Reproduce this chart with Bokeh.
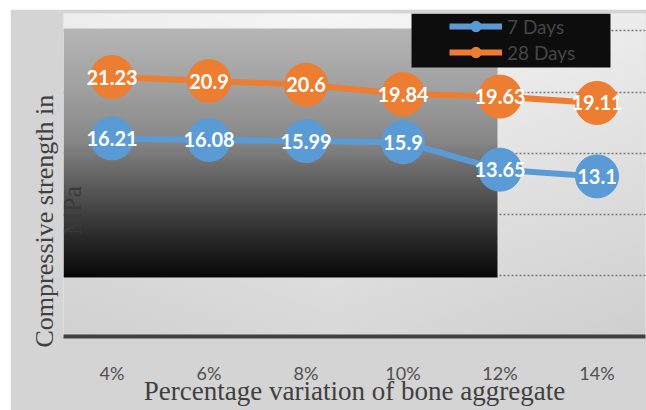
import numpy as np
from bokeh.plotting import figure
from bokeh.models import Range1d, FixedTicker, Legend, LegendItem, Title
from bokeh.core.properties import value
from bokeh.embed import file_html
from bokeh.resources import INLINE

# ---- data ----
categories = ["4%", "6%", "8%", "10%", "12%", "14%"]
days7 = [16.21, 16.08, 15.99, 15.9, 13.65, 13.1]
days28 = [21.23, 20.9, 20.6, 19.84, 19.63, 19.11]
grid_values = [5, 10, 15, 20, 25]
series_names = ["7 Days", "28 Days"]

xpos = [i + 0.5 for i in range(len(categories))]
Y_END = 26.43

p = figure(width=636, height=401, output_backend="svg", toolbar_location=None,
           x_range=Range1d(0, len(categories)), y_range=Range1d(0, Y_END),
           min_border_left=53, min_border_right=1, min_border_top=4, min_border_bottom=74)
p.margin = (9, 0, 0, 10)
p.border_fill_color = "#d4d4d4"
p.outline_line_color = None
p.background_fill_color = "#e0e0e0"


def gray_rgba(v):
    v = np.clip(v, 0, 255).astype(np.uint8)
    img = np.empty(v.shape, dtype=np.uint32)
    view = img.view(dtype=np.uint8).reshape(v.shape + (4,))
    view[..., 0] = v
    view[..., 1] = v
    view[..., 2] = v
    view[..., 3] = 255
    return img


# frame background gradient (decoration)
nx, ny = 146, 81
XX, YY = np.meshgrid(np.linspace(0, 1, nx), np.linspace(0, 1, ny))
px = 63 + XX * 582
py = 336 - YY * 323
bg = 246 - 0.09 * (py - 13) - 0.03 * np.abs(px - 330)
bg_r = p.image_rgba(image=[gray_rgba(bg)], x=0, y=0, dw=len(categories), dh=Y_END)
bg_r.level = "image"

# dark gradient panel (decoration)
dy0, dy1 = 4.83, 25.2
ny2 = 250
YY2 = np.linspace(0, 1, ny2)[:, None] * np.ones((1, 4))
py2 = 277 - YY2 * (277 - 28)
dark = np.interp(py2, [28, 90, 140, 200, 240, 277], [182, 160, 136, 78, 40, 8])
p.image_rgba(image=[gray_rgba(dark)], x=0, y=dy0, dw=4.474, dh=dy1 - dy0)

# legend box background (decoration)
p.quad(left=3.588, right=5.639, bottom=22.01, top=Y_END, fill_color="#0d0d0d", line_color=None)

# grid
p.xgrid.visible = False
p.ygrid.ticker = FixedTicker(ticks=grid_values)
p.ygrid.grid_line_color = "#7a7a7a"
p.ygrid.grid_line_dash = "2 2"
p.ygrid.grid_line_width = 1.5

colors = ["#5b9bd5", "#ed7d31"]
items = []
for name, vals, c in zip(series_names, [days7, days28], colors):
    ln = p.line(xpos, vals, line_color=c, line_width=6)
    sc = p.scatter(xpos, vals, size=43, fill_color=c, line_color=c)
    items.append(LegendItem(label=name, renderers=[ln, sc]))

for vals in [days7, days28]:
    p.text(xpos, vals, text=[str(v) for v in vals], text_align="center", text_baseline="middle",
           text_font=value("Lato"), text_font_style="bold", text_font_size="20px", text_color="white")

legend = Legend(items=items, location=(386, 271), padding=0, spacing=0, margin=0,
                glyph_width=53, glyph_height=26, label_height=26, label_standoff=5,
                background_fill_alpha=0, border_line_color=None,
                label_text_font="Lato", label_text_font_size="19px", label_text_color="#464646")
p.add_layout(legend)

# axes
p.yaxis.visible = False
ax = p.xaxis[0]
ax.ticker = FixedTicker(ticks=xpos)
ax.major_label_overrides = {x: c for x, c in zip(xpos, categories)}
ax.axis_line_width = 4
ax.axis_line_color = "#404040"
ax.major_tick_line_color = None
ax.minor_tick_line_color = None
ax.major_label_text_font = "Lato"
ax.major_label_text_font_size = "18px"
ax.major_label_text_color = "#505050"
ax.major_label_standoff = 19
ax.axis_label = "Percentage variation of bone aggregate"
ax.axis_label_text_font = "Liberation Serif"
ax.axis_label_text_font_size = "27px"
ax.axis_label_text_font_style = "normal"
ax.axis_label_text_color = "#404040"
ax.axis_label_standoff = -11

p.add_layout(Title(text="Compressive strength in", align="left", offset=-11,
                   vertical_align="bottom", standoff=10, text_font="Liberation Serif",
                   text_font_size="26px", text_font_style="normal", text_color="#404040"), "left")

p.text([0.093], [10.31], text=["MPa"], angle=np.pi / 2, text_align="center", text_baseline="middle",
       text_font=value("Liberation Serif"), text_font_size="26px", text_color="#3a3a3a")

open("out.html", "w").write(file_html(p, INLINE))
